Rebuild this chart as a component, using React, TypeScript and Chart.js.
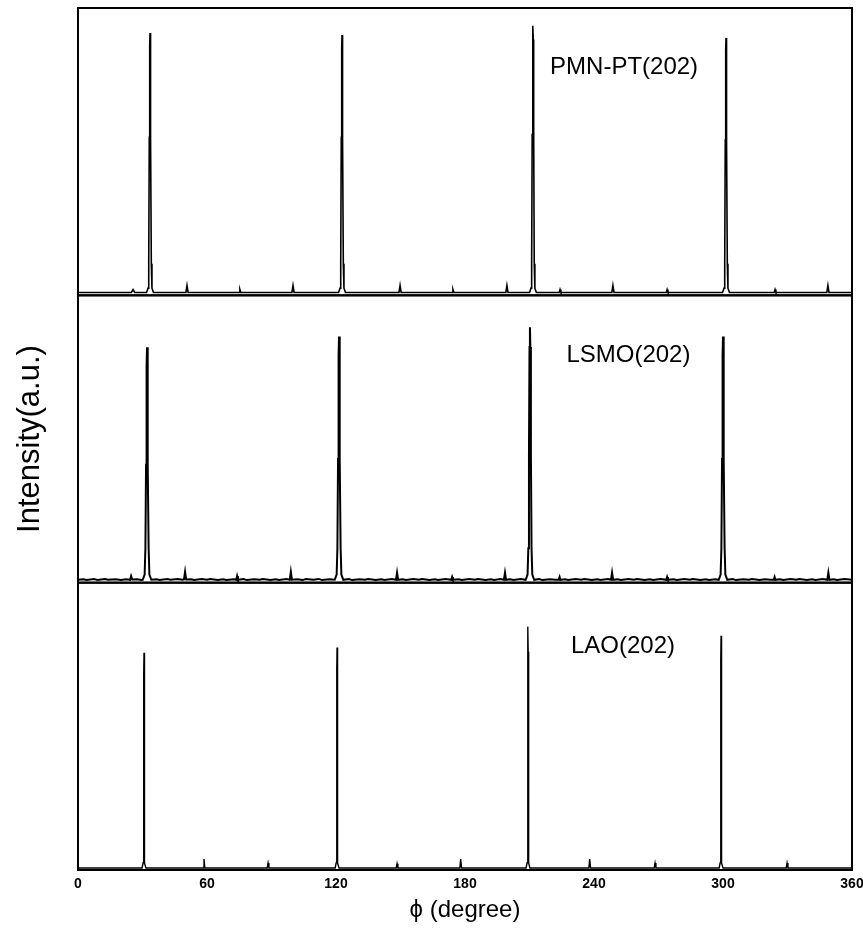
import { useEffect, useRef } from 'react';
import { Chart, registerables } from 'chart.js';

Chart.register(...registerables);

// x-axis tick labels (degrees)
const phiTicks: number[] = [0, 60, 120, 180, 240, 300, 360];

// panel labels and where they sit (phi, intensity in panel units 0-100)
const panelNames: string[] = ['PMN-PT(202)', 'LSMO(202)', 'LAO(202)'];
const labelPhi: number[] = [254, 256, 253.5];
const labelLevel: number[] = [79.3, 79, 77.8];

// PMN-PT(202) phi scan: [phi (deg), intensity (a.u.)]
const pmnScan: [number, number][] = [
  [0, 1.0],
  [24.8, 1.0], [25.6, 2.0], [26.4, 1.0],
  [31.9, 1.0], [32.6, 2.5], [32.9, 11], [33.15, 55], [33.35, 87], [33.5, 91.3], [33.65, 87], [33.85, 55], [34.1, 11], [34.4, 2.5], [35.1, 1.0],
  [50.2, 1.0], [50.7, 3.4], [51.2, 1.0],
  [74.9, 1.0], [75.3, 2.0], [75.7, 1.0],
  [99.5, 1.0], [100.0, 3.4], [100.5, 1.0],
  [121.2, 1.0], [121.9, 2.5], [122.2, 11], [122.45, 55], [122.65, 86], [122.8, 90.6], [122.95, 86], [123.15, 55], [123.4, 11], [123.7, 2.5], [124.4, 1.0],
  [149.3, 1.0], [149.8, 3.4], [150.3, 1.0],
  [174.0, 1.0], [174.4, 2.0], [174.8, 1.0],
  [199.0, 1.0], [199.5, 3.4], [200.0, 1.0],
  [210.0, 1.0], [210.7, 2.5], [211.0, 11], [211.25, 56], [211.45, 89], [211.6, 93.8], [211.75, 89], [211.95, 56], [212.2, 11], [212.5, 2.5], [213.2, 1.0],
  [223.8, 1.0], [224.2, 2.0], [224.6, 1.0],
  [248.3, 1.0], [248.8, 3.4], [249.3, 1.0],
  [273.6, 1.0], [274.0, 2.0], [274.4, 1.0],
  [299.8, 1.0], [300.5, 2.5], [300.8, 11], [301.05, 54], [301.25, 85], [301.4, 89.6], [301.55, 85], [301.75, 54], [302.0, 11], [302.3, 2.5], [303.0, 1.0],
  [323.8, 1.0], [324.2, 2.0], [324.6, 1.0],
  [348.3, 1.0], [348.8, 3.4], [349.3, 1.0],
  [360, 1.0],
];

// LSMO(202) phi scan
const lsmoScan: [number, number][] = [
  [0, 1.0], [2.5, 1.2], [4, 0.9], [7.5, 1.25], [9, 0.95], [12.5, 1.3], [14, 1.0], [17.5, 1.15], [20, 0.9], [22.5, 1.2],
  [24.2, 1.0], [24.7, 2.3], [25.2, 1.1],
  [27.5, 1.2], [29.5, 0.95],
  [30.1, 1.0], [31.0, 2.8], [31.35, 12], [31.65, 41], [31.9, 75], [32.1, 81.9], [32.3, 75], [32.55, 41], [32.85, 12], [33.2, 2.8], [34.1, 1.0],
  [36.5, 1.2], [38, 0.9], [41.5, 1.25], [43, 1.0], [46.5, 1.3], [48.5, 1.0],
  [49.3, 1.1], [49.8, 3.8], [50.3, 1.1],
  [52.5, 1.2], [54, 0.9], [57.5, 1.25], [60, 1.0], [61.5, 1.3], [65, 0.95], [67.5, 1.2], [69, 0.9], [72.5, 1.15],
  [73.6, 1.0], [74.0, 2.3], [74.4, 1.0],
  [77, 1.25], [78.5, 0.9], [82, 1.2], [84.5, 1.0], [86, 1.3], [89.5, 0.95], [92, 1.2], [93.5, 0.9], [97, 1.25],
  [98.5, 1.0], [99.0, 3.8], [99.5, 1.0],
  [102, 1.15], [104.5, 0.9], [106, 1.25], [109.5, 1.0], [112, 1.3], [113.5, 0.9], [117, 1.2],
  [119.4, 1.0], [120.3, 2.8], [120.65, 12], [120.95, 43], [121.2, 79], [121.4, 85.7], [121.6, 79], [121.85, 43], [122.15, 12], [122.5, 2.8], [123.4, 1.0],
  [126, 1.25], [127.5, 0.9], [131, 1.2], [133.5, 1.0], [135, 1.3], [138.5, 0.95], [141, 1.2], [142.5, 0.9], [146, 1.25],
  [147.9, 1.0], [148.4, 3.5], [148.9, 1.0],
  [151, 1.2], [152.5, 0.9], [156, 1.25], [158.5, 1.0], [160, 1.3], [163.5, 0.9], [166, 1.15], [167.5, 0.95], [171, 1.25],
  [173.6, 1.0], [174.0, 2.0], [174.4, 1.0],
  [177, 1.2], [178.5, 0.9], [182, 1.25], [184.5, 1.0], [186, 1.3], [189.5, 0.95], [192, 1.2], [193.5, 0.9], [196.5, 1.25],
  [198.1, 1.0], [198.6, 3.5], [199.1, 1.0],
  [201, 1.2], [202.5, 0.9], [206, 1.25],
  [208.2, 1.0], [209.1, 2.8], [209.45, 12], [209.75, 45], [210.0, 82], [210.2, 88.9], [210.4, 82], [210.65, 45], [210.95, 12], [211.3, 2.8], [212.2, 1.0],
  [214.5, 1.25], [216, 0.9], [219.5, 1.2], [222, 1.0],
  [223.6, 1.0], [224.0, 2.0], [224.4, 1.0],
  [226.5, 1.2], [228, 0.9], [231.5, 1.25], [234, 1.0], [235.5, 1.3], [239, 0.95], [241.5, 1.2], [243, 0.9], [246.5, 1.25],
  [247.9, 1.0], [248.4, 3.5], [248.9, 1.0],
  [251, 1.15], [252.5, 0.9], [256, 1.25], [258.5, 1.0], [260, 1.3], [263.5, 0.9], [266, 1.2], [267.5, 0.95], [271, 1.25],
  [273.6, 1.0], [274.0, 2.0], [274.4, 1.0],
  [277, 1.2], [278.5, 0.9], [282, 1.25], [284.5, 1.0], [286, 1.3], [289.5, 0.95], [292, 1.2], [293.5, 0.9], [296.5, 1.2],
  [298.0, 1.0], [298.9, 2.8], [299.25, 12], [299.55, 43], [299.8, 79], [300.0, 85.7], [300.2, 79], [300.45, 43], [300.75, 12], [301.1, 2.8], [302.0, 1.0],
  [304.5, 1.25], [306, 0.9], [309.5, 1.2], [312, 1.0], [313.5, 1.3], [317, 0.95], [319.5, 1.2], [322, 1.0],
  [323.6, 1.0], [324.0, 2.0], [324.4, 1.0],
  [326.5, 1.2], [328, 0.9], [331.5, 1.25], [334, 1.0], [335.5, 1.3], [339, 0.95], [341.5, 1.2], [343, 0.9], [346.5, 1.25],
  [348.5, 1.0], [349.0, 3.5], [349.5, 1.0],
  [351.5, 1.2], [353, 0.9], [356.5, 1.25], [360, 1.0],
];

// LAO(202) phi scan
const laoScan: [number, number][] = [
  [0, 0.7],
  [29.8, 0.7], [30.3, 2.5], [30.5, 26], [30.62, 68], [30.7, 75.6], [30.78, 68], [30.9, 26], [31.1, 2.5], [31.6, 0.7],
  [58.2, 0.7], [58.6, 3.8], [59.0, 0.7],
  [88.0, 0.7], [88.4, 2.4], [88.8, 0.7],
  [119.6, 0.7], [120.1, 2.5], [120.3, 27], [120.42, 70], [120.5, 77.4], [120.58, 70], [120.7, 27], [120.9, 2.5], [121.4, 0.7],
  [148.0, 0.7], [148.4, 2.2], [148.8, 0.7],
  [177.6, 0.7], [178.0, 3.8], [178.4, 0.7],
  [208.4, 0.7], [208.9, 2.5], [209.1, 30], [209.22, 76], [209.3, 84.7], [209.38, 76], [209.5, 30], [209.7, 2.5], [210.2, 0.7],
  [237.6, 0.7], [238.0, 3.8], [238.4, 0.7],
  [268.0, 0.7], [268.4, 2.4], [268.8, 0.7],
  [298.2, 0.7], [298.7, 2.5], [298.9, 28], [299.02, 73], [299.1, 81.5], [299.18, 73], [299.3, 28], [299.5, 2.5], [300.0, 0.7],
  [329.4, 0.7], [329.8, 2.4], [330.2, 0.7],
  [360, 0.7],
];

const panelAxes = ['yPMN', 'yLSMO', 'yLAO'];
const FONT = '"Liberation Sans", Arial, sans-serif';

const framePlugin = {
  id: 'panelFrames',
  afterDatasetsDraw(chart: any) {
    const { ctx, chartArea } = chart;
    ctx.save();
    ctx.strokeStyle = '#000';
    ctx.lineWidth = 2;
    panelAxes.forEach((id) => {
      const s = chart.scales[id];
      ctx.strokeRect(chartArea.left, s.top, chartArea.right - chartArea.left, s.bottom - s.top);
    });
    ctx.restore();
  },
};

const labelPlugin = {
  id: 'panelLabels',
  afterDatasetsDraw(chart: any) {
    const { ctx } = chart;
    const xs = chart.scales.x;
    ctx.save();
    ctx.fillStyle = '#000';
    ctx.font = '24px ' + FONT;
    ctx.textAlign = 'center';
    ctx.textBaseline = 'middle';
    panelNames.forEach((name, i) => {
      const ys = chart.scales[panelAxes[i]];
      ctx.fillText(name, xs.getPixelForValue(labelPhi[i]), ys.getPixelForValue(labelLevel[i]));
    });
    ctx.restore();
  },
};

function makeDataset(scan: [number, number][], axis: string, width: number) {
  return {
    data: scan.map(([x, y]) => ({ x, y })),
    yAxisID: axis,
    borderColor: '#000',
    backgroundColor: '#000',
    borderWidth: width,
    pointRadius: 0,
    fill: false,
    tension: 0,
  };
}

function yAxis(title?: string) {
  return {
    type: 'linear' as const,
    position: 'left' as const,
    stack: 'panels',
    stackWeight: 1,
    min: 0,
    max: 100,
    grid: { display: false, drawTicks: false },
    border: { display: false },
    ticks: { display: false },
    title: title
      ? {
          display: true,
          text: title,
          color: '#000',
          font: { family: FONT, size: 31 },
          padding: { top: 4, bottom: 28.8 },
        }
      : { display: false },
  };
}

export default function App() {
  const ref = useRef<HTMLCanvasElement | null>(null);

  useEffect(() => {
    if (!ref.current) return;
    const chart = new Chart(ref.current, {
      type: 'line',
      data: {
        datasets: [
          makeDataset(pmnScan, 'yPMN', 1.6),
          makeDataset(lsmoScan, 'yLSMO', 2.0),
          makeDataset(laoScan, 'yLAO', 1.4),
        ] as any,
      },
      options: {
        responsive: false,
        animation: false,
        layout: { padding: { left: 8, right: 11, top: 8, bottom: 0 } },
        plugins: { legend: { display: false }, tooltip: { enabled: false } },
        scales: {
          x: {
            type: 'linear',
            min: 0,
            max: 360,
            afterBuildTicks: (s: any) => {
              s.ticks = phiTicks.map((v) => ({ value: v }));
            },
            afterFit: (s: any) => {
              s.paddingLeft = 0;
              s.paddingRight = 0;
              s.height = 62;
            },
            grid: { display: false, drawTicks: false },
            border: { display: false },
            ticks: {
              color: '#000',
              font: { family: '"Liberation Sans Narrow", ' + FONT, size: 14, weight: 'bold' },
              padding: 6,
              maxRotation: 0,
              autoSkip: false,
            },
            title: {
              display: true,
              text: '\u03D5 (degree)',
              color: '#000',
              font: { family: FONT, size: 24 },
              padding: { top: 4, bottom: 7 },
            },
          },
          yLAO: yAxis(),
          yLSMO: yAxis('Intensity(a.u.)'),
          yPMN: yAxis(),
        } as any,
      },
      plugins: [framePlugin, labelPlugin],
    });
    return () => chart.destroy();
  }, []);

  return (
    <div style={{ position: 'fixed', left: 0, top: 0, width: 863, height: 932, background: '#fff' }}>
      <canvas ref={ref} width={863} height={932} style={{ display: 'block', width: 863, height: 932 }} />
    </div>
  );
}
